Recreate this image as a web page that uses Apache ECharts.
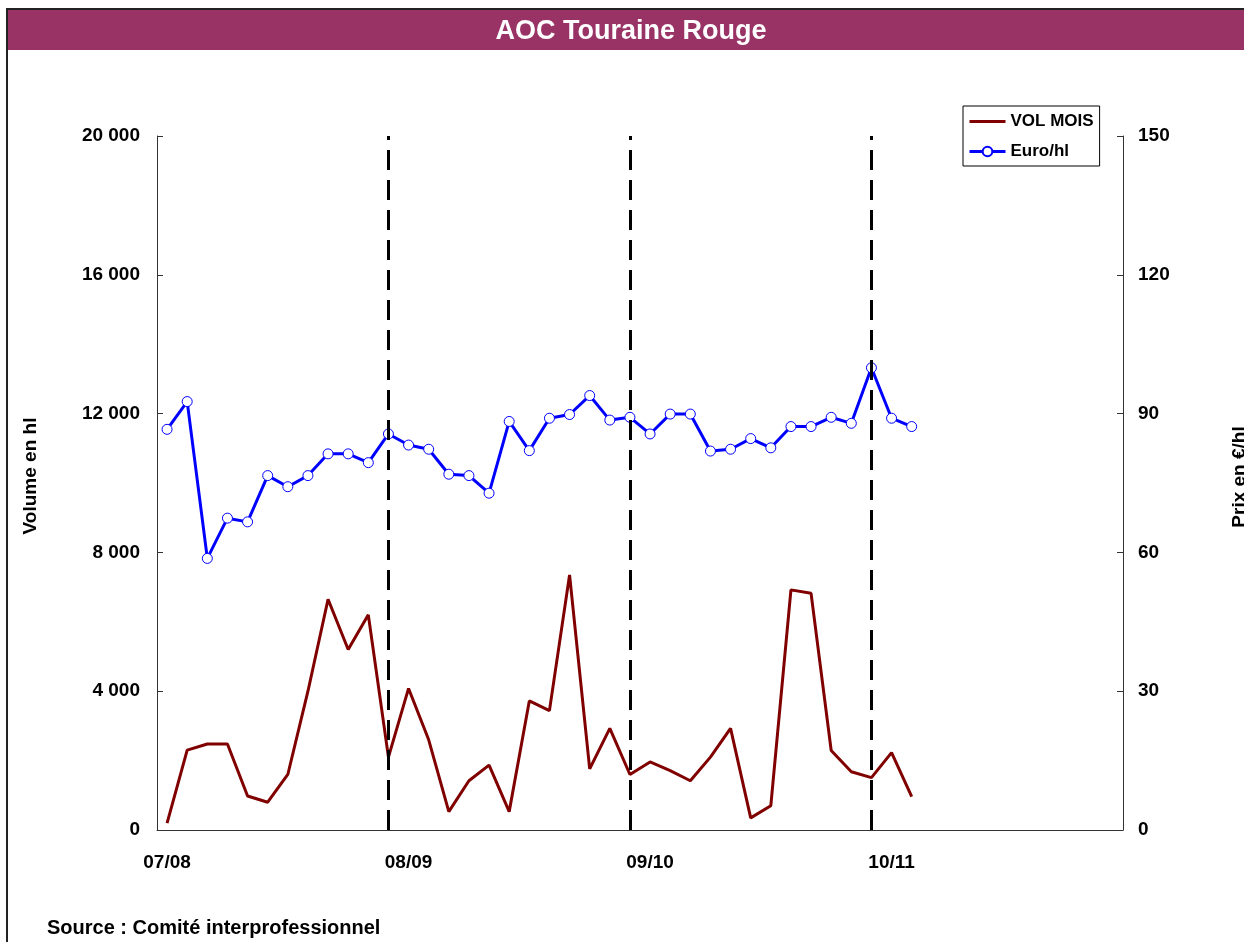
<!DOCTYPE html>
<html>
<head>
<meta charset="utf-8">
<script src="https://cdn.jsdelivr.net/npm/echarts@6/dist/echarts.min.js"></script>
<style>
  html, body { margin: 0; padding: 0; background: #fff; }
  #chart { width: 1244px; height: 942px; }
</style>
</head>
<body>
<div id="chart"></div>
<script>
// seasons shown on the x axis, 12 months each
const seasons = ['07/08', '08/09', '09/10', '10/11'];
const monthsPerSeason = 12;
const totalSlots = 48;

// monthly volume (hl), left axis
const volMois = [
  200, 2300, 2480, 2480, 980, 800, 1600, 4000, 6650, 5200, 6200, 2100,
  4080, 2600, 530, 1420, 1870, 530, 3720, 3440, 7350, 1760, 2930, 1600,
  1960, 1710, 1420, 2100, 2930, 350, 700, 6920, 6820, 2290, 1680, 1510,
  2230, 960
];

// price in euro per hl, right axis
const euroHl = [
  86.6, 92.6, 58.7, 67.4, 66.6, 76.6, 74.2, 76.6, 81.3, 81.3, 79.4, 85.6,
  83.2, 82.3, 76.9, 76.6, 72.8, 88.3, 82.0, 89.0, 89.8, 93.9, 88.6, 89.2,
  85.6, 89.9, 89.9, 81.9, 82.3, 84.6, 82.6, 87.2, 87.2, 89.2, 87.9, 99.9,
  89.0, 87.2
];

// month slots where the season separators are drawn
const separators = [11, 23, 35];

const categories = [];
for (let i = 0; i < totalSlots; i++) {
  const s = seasons[Math.floor(i / monthsPerSeason)] || '';
  categories.push(i % monthsPerSeason === 0 && s ? s : 'm' + i);
}

const font = '"Liberation Sans", Arial, sans-serif';

const chart = echarts.init(document.getElementById('chart'));

chart.setOption({
  backgroundColor: '#fff',
  animation: false,
  textStyle: { fontFamily: font },
  grid: { left: 157, right: 121, top: 136, bottom: 112, containLabel: false },
  legend: {
    left: 963,
    top: 106,
    orient: 'vertical',
    backgroundColor: '#fff',
    borderColor: '#000',
    borderWidth: 1,
    padding: [7, 6, 6, 5],
    itemGap: 13,
    itemWidth: 36,
    itemHeight: 12,
    textStyle: { fontFamily: font, fontWeight: 'bold', fontSize: 17, color: '#000' },
    data: [
      { name: 'VOL MOIS', itemStyle: { opacity: 0 }, lineStyle: { width: 3 } },
      { name: 'Euro/hl', lineStyle: { width: 3 } }
    ]
  },
  xAxis: {
    type: 'category',
    data: categories,
    boundaryGap: true,
    axisLine: { lineStyle: { color: '#333', width: 1 } },
    axisTick: { show: false },
    axisLabel: {
      interval: 0,
      margin: 23,
      color: '#000',
      fontWeight: 'bold',
      fontSize: 19,
      fontFamily: font,
      formatter: v => (seasons.indexOf(v) >= 0 ? v : '')
    },
    splitLine: { show: false }
  },
  yAxis: [
    {
      type: 'value',
      min: 0,
      max: 20000,
      interval: 4000,
      axisLine: { show: true, lineStyle: { color: '#333', width: 1 } },
      axisTick: { show: true, inside: true, length: 6, lineStyle: { color: '#333' } },
      axisLabel: {
        margin: 17,
        color: '#000',
        fontWeight: 'bold',
        fontSize: 19,
        fontFamily: font,
        formatter: v => String(v).replace(/\B(?=(\d{3})+(?!\d))/g, ' ')
      },
      splitLine: { show: false }
    },
    {
      type: 'value',
      min: 0,
      max: 150,
      interval: 30,
      position: 'right',
      axisLine: { show: true, lineStyle: { color: '#333', width: 1 } },
      axisTick: { show: true, inside: true, length: 6, lineStyle: { color: '#333' } },
      axisLabel: {
        margin: 15,
        color: '#000',
        fontWeight: 'bold',
        fontSize: 19,
        fontFamily: font
      },
      splitLine: { show: false }
    }
  ],
  series: [
    {
      name: 'VOL MOIS',
      type: 'line',
      yAxisIndex: 0,
      data: volMois,
      symbol: 'none',
      lineStyle: { color: '#800000', width: 3 },
      itemStyle: { color: '#800000' },
      z: 3,
      markLine: {
        silent: true,
        symbol: ['none', 'none'],
        label: { show: false },
        lineStyle: { color: '#000', width: 3, type: [20, 10] },
        data: separators.map(i => ({ xAxis: categories[i] }))
      }
    },
    {
      name: 'Euro/hl',
      type: 'line',
      yAxisIndex: 1,
      data: euroHl,
      symbol: 'circle',
      symbolSize: 10,
      showAllSymbol: true,
      lineStyle: { color: '#0000ff', width: 3 },
      itemStyle: { color: '#fff', borderColor: '#0000ff', borderWidth: 1 },
      z: 4
    }
  ],
  graphic: [
    {
      type: 'rect',
      shape: { x: 7, y: 9, width: 1300, height: 1000 },
      style: { fill: 'none', stroke: '#222', lineWidth: 2 },
      z: 0
    },
    {
      type: 'rect',
      shape: { x: 8, y: 10, width: 1240, height: 40 },
      style: { fill: '#993366' },
      z: 1
    },
    {
      type: 'text',
      x: 631,
      y: 32,
      style: {
        text: 'AOC Touraine Rouge',
        fill: '#fff',
        font: 'bold 27px ' + font,
        textAlign: 'center',
        textVerticalAlign: 'middle'
      },
      z: 2
    },
    {
      type: 'text',
      x: 31,
      y: 476,
      rotation: Math.PI / 2,
      style: {
        text: 'Volume en hl',
        fill: '#000',
        font: 'bold 19px ' + font,
        textAlign: 'center',
        textVerticalAlign: 'middle'
      }
    },
    {
      type: 'text',
      x: 1240,
      y: 477,
      rotation: Math.PI / 2,
      style: {
        text: 'Prix en €/hl',
        fill: '#000',
        font: 'bold 19px ' + font,
        textAlign: 'center',
        textVerticalAlign: 'middle'
      }
    },
    {
      type: 'text',
      x: 47,
      y: 928,
      style: {
        text: 'Source : Comité interprofessionnel',
        fill: '#000',
        font: 'bold 20px ' + font,
        textAlign: 'left',
        textVerticalAlign: 'middle'
      }
    }
  ]
});
</script>
</body>
</html>
